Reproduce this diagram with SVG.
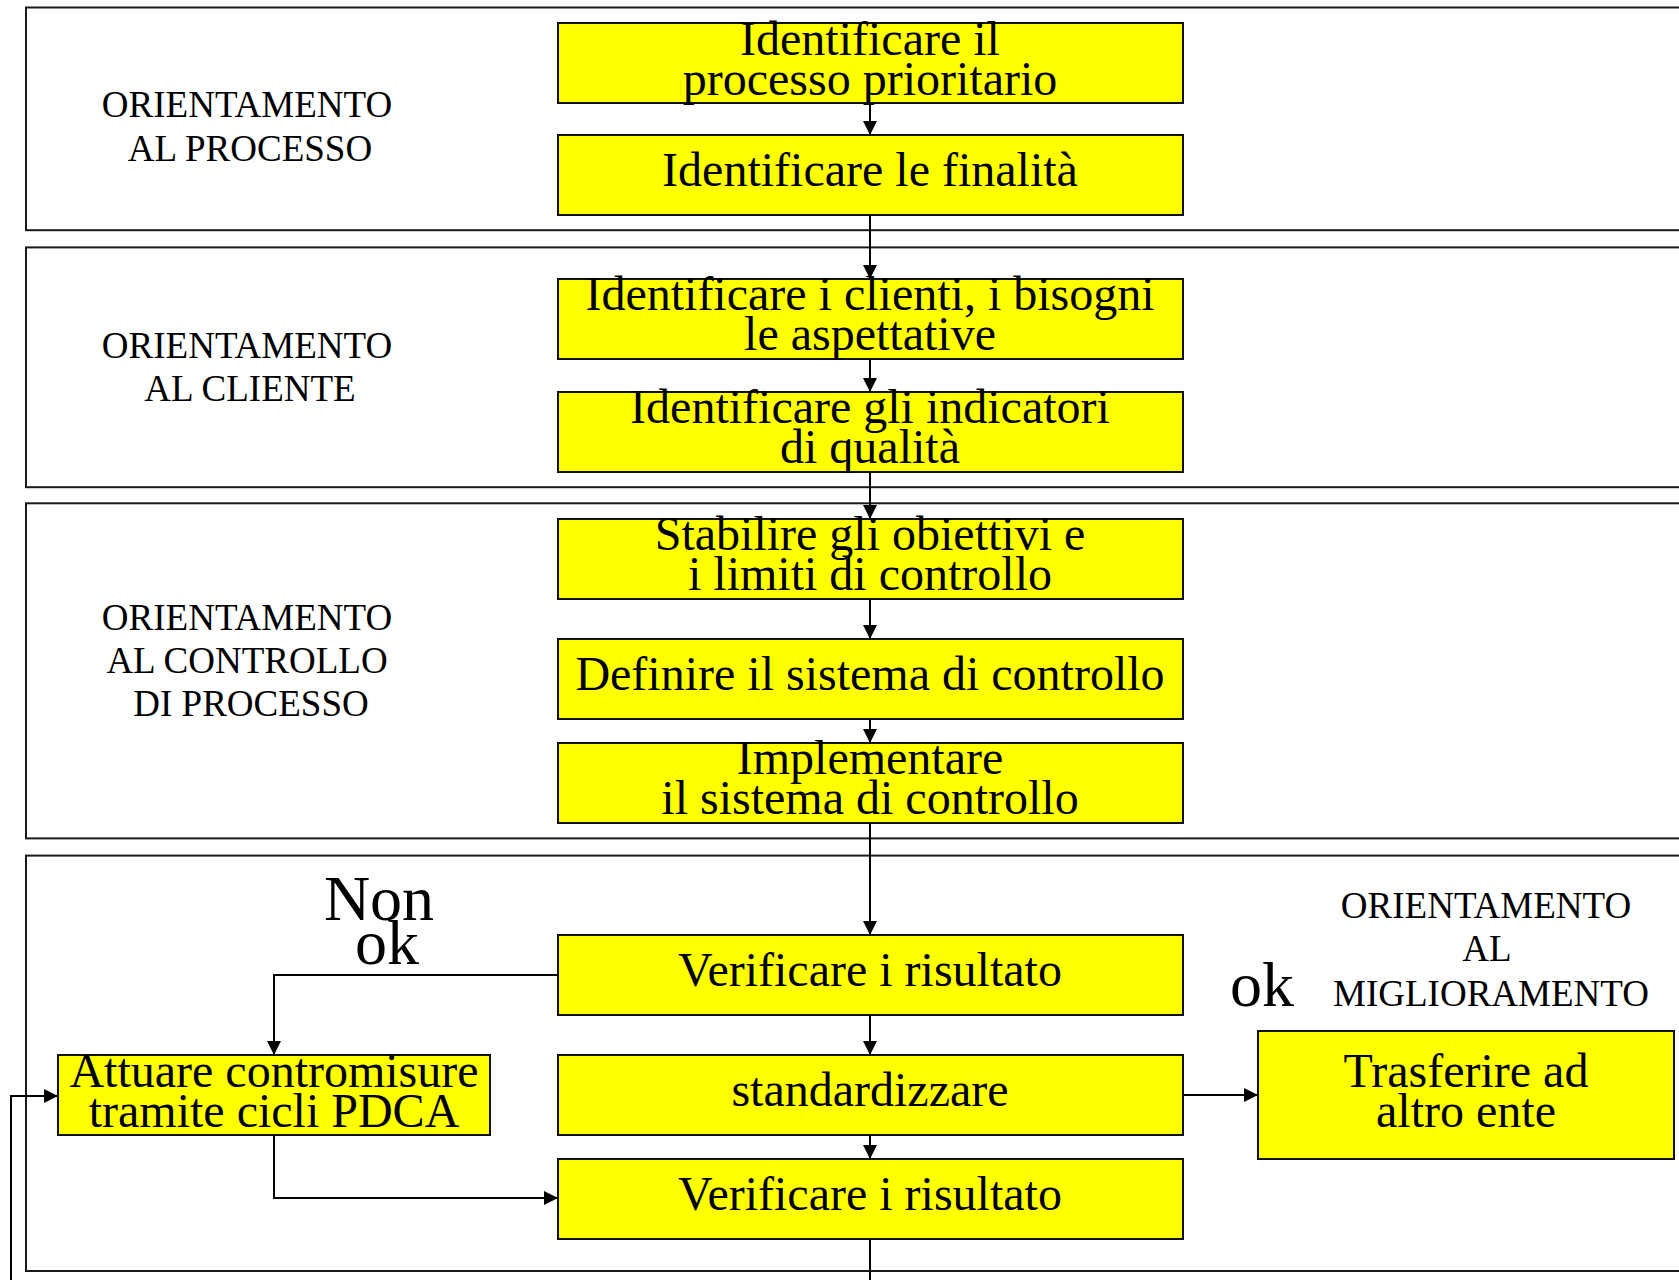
<svg xmlns="http://www.w3.org/2000/svg" width="1679" height="1280" viewBox="0 0 1679 1280">
<style>
.panel{fill:#fff;stroke:#1a1a1a;stroke-width:2}
.box{fill:#ffff00;stroke:#111;stroke-width:2}
.t{font-family:"Liberation Serif","Times New Roman",serif;font-size:48px;fill:#000;text-anchor:middle}
.lab{font-family:"Liberation Serif","Times New Roman",serif;font-size:37px;fill:#000;text-anchor:middle}
.big{font-family:"Liberation Serif","Times New Roman",serif;font-size:64px;fill:#000;text-anchor:middle}
.c{fill:none;stroke:#000;stroke-width:2}
</style>
<defs>
<marker id="ah" markerWidth="14" markerHeight="14" refX="14" refY="7" orient="auto" markerUnits="userSpaceOnUse">
<path d="M0,0 L14,7 L0,14 Z" fill="#000"/>
</marker>
</defs>
<g id="panels">
<rect id="panel-processo" class="panel" x="26" y="7.5" width="1700" height="222.7"/>
<rect id="panel-cliente" class="panel" x="26" y="247.4" width="1700" height="239.8"/>
<rect id="panel-controllo" class="panel" x="26" y="503.3" width="1700" height="335.1"/>
<rect id="panel-miglioramento" class="panel" x="26" y="855.6" width="1700" height="415.4"/>
</g>
<g id="labels">
<g id="label-processo"><text class="lab" x="247" y="117">ORIENTAMENTO</text><text class="lab" x="250" y="161">AL PROCESSO</text></g>
<g id="label-cliente"><text class="lab" x="247" y="358">ORIENTAMENTO</text><text class="lab" x="250" y="401">AL CLIENTE</text></g>
<g id="label-controllo"><text class="lab" x="247" y="630">ORIENTAMENTO</text><text class="lab" x="247" y="673">AL CONTROLLO</text><text class="lab" x="251" y="716">DI PROCESSO</text></g>
<g id="label-miglioramento"><text class="lab" x="1486" y="918">ORIENTAMENTO</text><text class="lab" x="1487" y="961">AL</text><text class="lab" x="1491" y="1006">MIGLIORAMENTO</text></g>
<g id="label-nonok"><text class="big" x="379" y="920">Non</text><text class="big" x="387" y="964">ok</text></g>
<g id="label-ok"><text class="big" x="1262" y="1006">ok</text></g>
</g>
<g id="connectors">
<line class="c" x1="870" y1="103" x2="870" y2="135" marker-end="url(#ah)"/>
<line class="c" x1="870" y1="215" x2="870" y2="279" marker-end="url(#ah)"/>
<line class="c" x1="870" y1="359" x2="870" y2="392" marker-end="url(#ah)"/>
<line class="c" x1="870" y1="472" x2="870" y2="519" marker-end="url(#ah)"/>
<line class="c" x1="870" y1="599" x2="870" y2="639" marker-end="url(#ah)"/>
<line class="c" x1="870" y1="719" x2="870" y2="743" marker-end="url(#ah)"/>
<line class="c" x1="870" y1="823" x2="870" y2="935" marker-end="url(#ah)"/>
<line class="c" x1="870" y1="1015" x2="870" y2="1055" marker-end="url(#ah)"/>
<line class="c" x1="870" y1="1135" x2="870" y2="1159" marker-end="url(#ah)"/>
<line class="c" x1="870" y1="1239" x2="870" y2="1282"/>
<polyline class="c" points="558,975 274,975 274,1055" marker-end="url(#ah)"/>
<polyline class="c" points="274,1135 274,1198 558,1198" marker-end="url(#ah)"/>
<line class="c" x1="1183" y1="1095" x2="1258" y2="1095" marker-end="url(#ah)"/>
<polyline class="c" points="11,1282 11,1096 58,1096" marker-end="url(#ah)"/>
</g>
<g id="n1"><rect class="box" x="558" y="23" width="625" height="80"/><text class="t" x="870" y="55">Identificare il</text><text class="t" x="870" y="95">processo prioritario</text></g>
<g id="n2"><rect class="box" x="558" y="135" width="625" height="80"/><text class="t" x="870" y="186">Identificare le finalità</text></g>
<g id="n3"><rect class="box" x="558" y="279" width="625" height="80"/><text class="t" x="870" y="310">Identificare i clienti, i bisogni</text><text class="t" x="870" y="350">le aspettative</text></g>
<g id="n4"><rect class="box" x="558" y="392" width="625" height="80"/><text class="t" x="870" y="423">Identificare gli indicatori</text><text class="t" x="870" y="463">di qualità</text></g>
<g id="n5"><rect class="box" x="558" y="519" width="625" height="80"/><text class="t" x="870" y="550">Stabilire gli obiettivi e</text><text class="t" x="870" y="590">i limiti di controllo</text></g>
<g id="n6"><rect class="box" x="558" y="639" width="625" height="80"/><text class="t" x="870" y="690">Definire il sistema di controllo</text></g>
<g id="n7"><rect class="box" x="558" y="743" width="625" height="80"/><text class="t" x="870" y="774">Implementare</text><text class="t" x="870" y="814">il sistema di controllo</text></g>
<g id="n8"><rect class="box" x="558" y="935" width="625" height="80"/><text class="t" x="870" y="986">Verificare i risultato</text></g>
<g id="n9"><rect class="box" x="558" y="1055" width="625" height="80"/><text class="t" x="870" y="1106">standardizzare</text></g>
<g id="n10"><rect class="box" x="558" y="1159" width="625" height="80"/><text class="t" x="870" y="1210">Verificare i risultato</text></g>
<g id="n-attuare"><rect class="box" x="58" y="1055" width="432" height="80"/><text class="t" x="274" y="1087">Attuare contromisure</text><text class="t" x="274" y="1127">tramite cicli PDCA</text></g>
<g id="n-trasferire"><rect class="box" x="1258" y="1031" width="416" height="128"/><text class="t" x="1466" y="1087">Trasferire ad</text><text class="t" x="1466" y="1127">altro ente</text></g>
</svg>
